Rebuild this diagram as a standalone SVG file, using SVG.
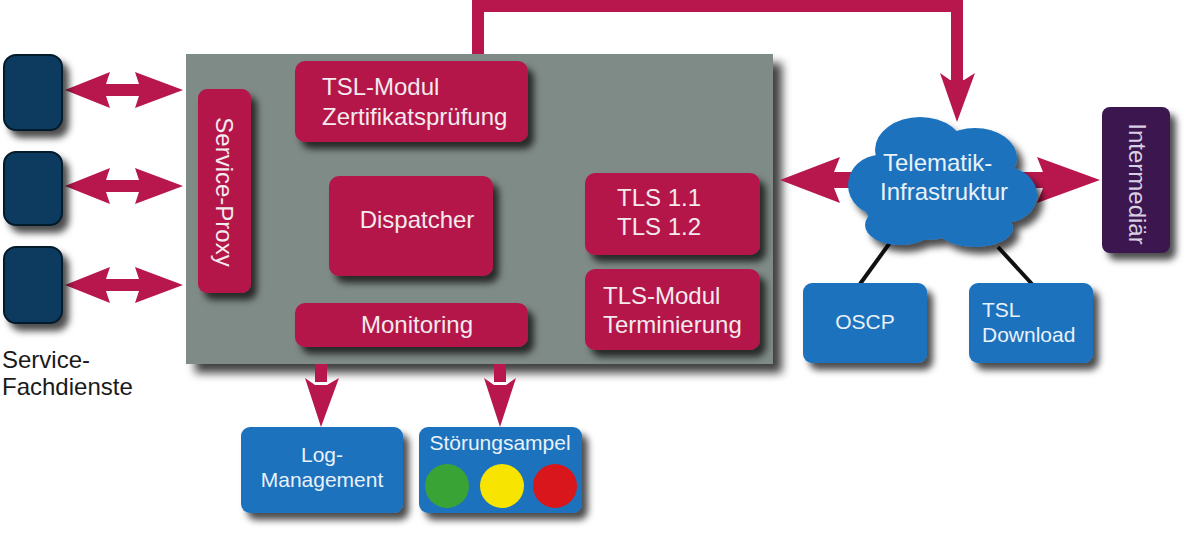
<svg xmlns="http://www.w3.org/2000/svg" width="1200" height="545" viewBox="0 0 1200 545">
<defs>
<filter id="sh" x="-20%" y="-20%" width="150%" height="150%">
<feDropShadow dx="6" dy="7" stdDeviation="3.5" flood-color="#000" flood-opacity="0.7"/>
</filter>
<filter id="shb" x="-10%" y="-10%" width="130%" height="130%">
<feDropShadow dx="9" dy="9" stdDeviation="5" flood-color="#000" flood-opacity="0.75"/>
</filter>
<style>
.t{font-family:"Liberation Sans",Arial,sans-serif;font-size:24px;fill:#f2eaed}
.tb{font-family:"Liberation Sans",Arial,sans-serif;font-size:21px;fill:#e9f1f9}
.tk{font-family:"Liberation Sans",Arial,sans-serif;font-size:24px;fill:#1a1a1a}
.red{fill:#b5164a}
.blue{fill:#1d72bd}
.arr{fill:#b8174d}
.navy{fill:#0c3a5e;stroke:#061a2b;stroke-width:2}
</style>
</defs>
<rect width="1200" height="545" fill="#ffffff"/>

<g id="core">
<rect x="186" y="54" width="587" height="310" fill="#7f8b87" filter="url(#shb)"/>
</g>

<g id="connectors">
<path d="M478,54 V6 H957 V82" fill="none" stroke="#b8174d" stroke-width="12" stroke-linejoin="miter"/>
<polygon class="arr" points="940,73 950,80 964,80 975,73 957,122"/>
<polygon class="arr" points="65,90 110,72 106,84 139,84 135,72 183,90 135,108 139,96 106,96 110,108"/>
<polygon class="arr" points="65,186 110,168 106,180 139,180 135,168 183,186 135,204 139,192 106,192 110,204"/>
<polygon class="arr" points="65,285 110,267 106,279 139,279 135,267 183,285 135,303 139,291 106,291 110,303"/>
<polygon class="arr" points="780,180 840,157 834,172 1043,172 1037,157 1100,180 1037,203 1043,188 834,188 840,203"/>
<rect class="arr" x="315" y="364" width="12" height="18"/>
<polygon class="arr" points="305,378 315,385 327,385 339,378 321,427"/>
<rect class="arr" x="494" y="364" width="12" height="18"/>
<polygon class="arr" points="484,378 494,385 506,385 516,378 500,427"/>
<line x1="897" y1="233" x2="860" y2="284" stroke="#111" stroke-width="4"/>
<line x1="998" y1="247" x2="1032" y2="284" stroke="#111" stroke-width="4"/>
</g>

<g id="service-proxy">
<rect class="red" x="198" y="89" width="53" height="204" rx="9" filter="url(#sh)"/>
<text class="t" text-anchor="middle" transform="translate(216,192) rotate(90)">Service-Proxy</text>
</g>

<g id="tsl-modul">
<rect class="red" x="295" y="61" width="233" height="81" rx="10" filter="url(#sh)"/>
<text class="t" x="322" y="95">TSL-Modul</text>
<text class="t" x="322" y="125">Zertifikatsprüfung</text>
</g>

<g id="dispatcher">
<rect class="red" x="329" y="176" width="164" height="100" rx="10" filter="url(#sh)"/>
<text class="t" x="417" y="228" text-anchor="middle">Dispatcher</text>
</g>

<g id="monitoring">
<rect class="red" x="295" y="303" width="233" height="44" rx="10" filter="url(#sh)"/>
<text class="t" x="417" y="333" text-anchor="middle">Monitoring</text>
</g>

<g id="tls">
<rect class="red" x="585" y="173" width="175" height="82" rx="10" filter="url(#sh)"/>
<text class="t" x="617" y="206">TLS 1.1</text>
<text class="t" x="617" y="235">TLS 1.2</text>
</g>

<g id="tls-modul">
<rect class="red" x="585" y="269" width="175" height="81" rx="10" filter="url(#sh)"/>
<text class="t" x="603" y="304">TLS-Modul</text>
<text class="t" x="603" y="333">Terminierung</text>
</g>

<g id="fachdienst-1"><rect class="navy" x="4" y="55" width="58" height="75" rx="12" filter="url(#sh)"/></g>
<g id="fachdienst-2"><rect class="navy" x="4" y="152" width="58" height="73" rx="12" filter="url(#sh)"/></g>
<g id="fachdienst-3"><rect class="navy" x="4" y="247" width="58" height="76" rx="12" filter="url(#sh)"/></g>
<g id="fachdienste-label">
<text class="tk" x="2" y="368">Service-</text>
<text class="tk" x="2" y="395">Fachdienste</text>
</g>

<g id="telematik">
<g class="blue" filter="url(#sh)">
<ellipse cx="920" cy="150" rx="45" ry="33"/>
<ellipse cx="975" cy="158" rx="42" ry="30"/>
<ellipse cx="880" cy="185" rx="32" ry="30"/>
<ellipse cx="1005" cy="195" rx="32" ry="28"/>
<ellipse cx="925" cy="205" rx="60" ry="35"/>
<ellipse cx="900" cy="225" rx="35" ry="20"/>
<ellipse cx="975" cy="228" rx="38" ry="19"/>
<ellipse cx="940" cy="185" rx="80" ry="40"/>
</g>
<text class="t" x="883" y="171" style="fill:#e9f1f9">Telematik-</text>
<text class="t" x="880" y="200" style="fill:#e9f1f9">Infrastruktur</text>
</g>

<g id="intermediaer">
<rect x="1102" y="107" width="68" height="146" rx="8" fill="#3a1650" filter="url(#sh)"/>
<text class="t" text-anchor="middle" transform="translate(1129,184) rotate(90)" style="fill:#d9cfe2">Intermediär</text>
</g>

<g id="oscp">
<rect class="blue" x="803" y="283" width="124" height="80" rx="9" filter="url(#sh)"/>
<text class="tb" x="865" y="329" text-anchor="middle">OSCP</text>
</g>

<g id="tsl-download">
<rect class="blue" x="969" y="283" width="124" height="80" rx="9" filter="url(#sh)"/>
<text class="tb" x="982" y="317">TSL</text>
<text class="tb" x="982" y="342">Download</text>
</g>

<g id="log-management">
<rect class="blue" x="241" y="427" width="162" height="86" rx="9" filter="url(#sh)"/>
<text class="tb" x="322" y="462" text-anchor="middle">Log-</text>
<text class="tb" x="322" y="487" text-anchor="middle">Management</text>
</g>

<g id="stoerungsampel">
<rect class="blue" x="419" y="427" width="163" height="86" rx="9" filter="url(#sh)"/>
<text class="tb" x="500" y="450" text-anchor="middle">Störungsampel</text>
<circle cx="447" cy="486" r="22" fill="#3aa335"/>
<circle cx="502" cy="486" r="22" fill="#f7e400"/>
<circle cx="555" cy="486" r="22" fill="#d8161b"/>
</g>
</svg>
